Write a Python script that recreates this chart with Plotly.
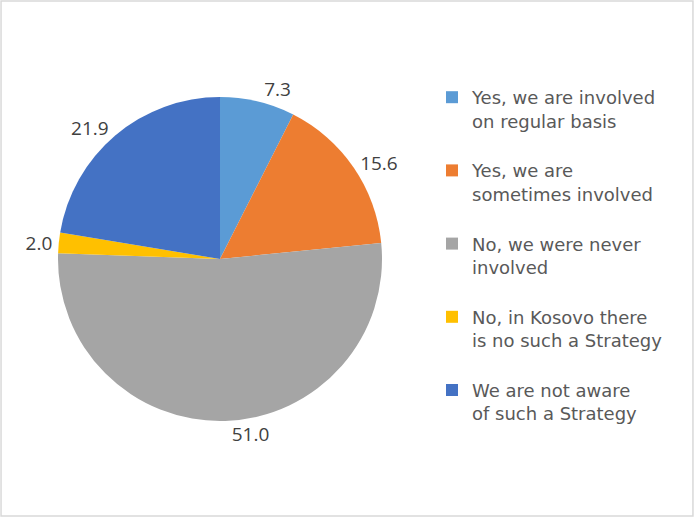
import plotly.graph_objects as go

labels = [
    "Yes, we are involved<br>on regular basis<br> ",
    "Yes, we are<br>sometimes involved<br> ",
    "No, we were never<br>involved<br> ",
    "No, in Kosovo there<br>is no such a Strategy<br> ",
    "We are not aware<br>of such a Strategy<br> ",
]
values = [7.3, 15.6, 51.0, 2.0, 21.9]
colors = ["#5B9BD5", "#ED7D31", "#A5A5A5", "#FFC000", "#4472C4"]

W, H = 694, 517
cx, cy, r = 220, 259, 162

fig = go.Figure(go.Pie(
    labels=labels,
    values=values,
    sort=False,
    direction="clockwise",
    rotation=0,
    marker=dict(colors=colors, line=dict(width=0)),
    text=[f"{v:.1f}" for v in values],
    textinfo="text",
    textposition="outside",
    textfont=dict(family="Open Sans", size=19, color="#404040"),
    hoverinfo="label+value",
    domain=dict(x=[(cx - r) / W, (cx + r) / W], y=[1 - (cy + r) / H, 1 - (cy - r) / H]),
    automargin=False,
))

fig.update_layout(
    width=W, height=H,
    margin=dict(l=0, r=0, t=0, b=0),
    paper_bgcolor="white",
    plot_bgcolor="white",
    showlegend=True,
    legend=dict(
        x=432 / W, y=1 - 79 / H, xanchor="left", yanchor="top",
        font=dict(family="DejaVu Sans", size=18, color="#595959"),
        itemwidth=30,
        valign="top",
        tracegroupgap=0,
    ),
    shapes=[dict(type="rect", xref="paper", yref="paper", x0=0.0015, y0=0.002, x1=0.9985, y1=0.998,
                 line=dict(color="#D9D9D9", width=1.5), fillcolor="rgba(0,0,0,0)")],
)

fig.write_html("out.html", config={"displayModeBar": False},
               post_script="document.body.style.margin='0';")
